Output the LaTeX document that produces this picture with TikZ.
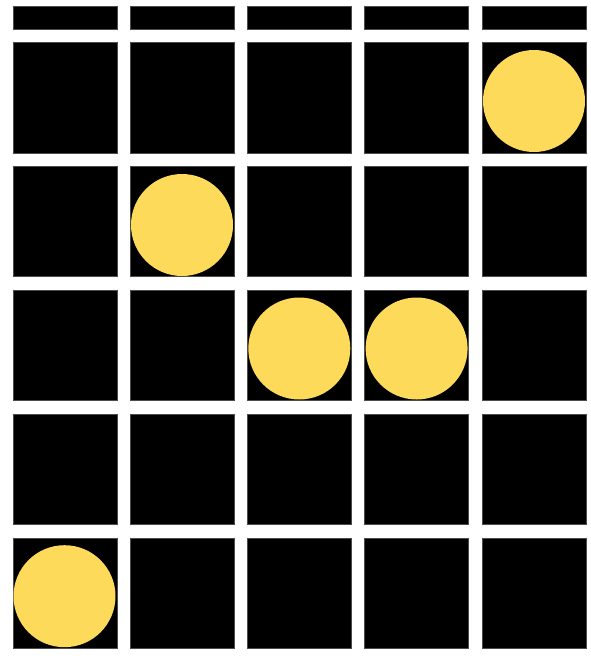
\documentclass[tikz,border=0pt]{standalone}
\usepackage{tikz}
\definecolor{sun}{RGB}{253,218,90}
\tikzset{
  cell/.style={fill=black, draw=black!70, line width=0.4pt},
  disc/.style={fill=sun, draw=none}
}
\begin{document}
\begin{tikzpicture}[x=1pt,y=-1pt]
\fill[white] (0,0) rectangle (591,656);
\useasboundingbox (0,0) rectangle (591,656);
% top strip
\foreach \c in {0,...,4}{
  \pgfmathsetmacro{\xl}{12.7+117.3*\c}
  \path[cell] (\xl,5.7) rectangle ({\xl+104},29.3);
}
% grid cells
\foreach \r in {0,...,4}{
  \foreach \c in {0,...,4}{
    \pgfmathsetmacro{\xl}{12.7+117.3*\c}
    \pgfmathsetmacro{\yt}{42.3+123.85*\r}
    \path[cell] (\xl,\yt) rectangle ({\xl+104},{\yt+110.4});
  }
}
% discs
\node[disc, circle, minimum size=102pt, inner sep=0pt] (d1) at (534.0,101.0) {};
\node[disc, circle, minimum size=102pt, inner sep=0pt] (d2) at (182.0,225.0) {};
\node[disc, circle, minimum size=102pt, inner sep=0pt] (d3) at (299.3,348.5) {};
\node[disc, circle, minimum size=102pt, inner sep=0pt] (d4) at (416.6,348.5) {};
\node[disc, circle, minimum size=102pt, inner sep=0pt] (d5) at (64.5,596.2) {};
\end{tikzpicture}
\end{document}
